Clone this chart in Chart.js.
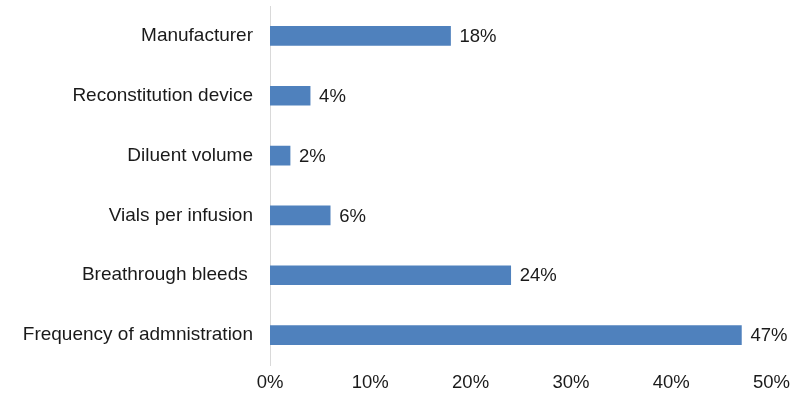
<!DOCTYPE html>
<html>
<head>
<meta charset="utf-8">
<script src="https://cdn.jsdelivr.net/npm/chart.js@4"></script>
<style>
  html, body { margin: 0; padding: 0; background: #fff; }
  #wrap { width: 797px; height: 399px; }
</style>
</head>
<body>
<div id="wrap"><canvas id="c"></canvas></div>
<script>
const categories = [
  "Manufacturer",
  "Reconstitution device",
  "Diluent volume",
  "Vials per infusion",
  "Breathrough bleeds ",
  "Frequency of admnistration"
];
const shares = [18, 4, 2, 6, 24, 47];
const xTicks = [0, 10, 20, 30, 40, 50];

const FONT = "'Liberation Sans', Arial, sans-serif";

// labels at the end of each bar
const valueLabels = {
  id: "valueLabels",
  afterDatasetsDraw(chart) {
    const { ctx } = chart;
    const meta = chart.getDatasetMeta(0);
    ctx.save();
    ctx.font = "18.5px " + FONT;
    ctx.fillStyle = "#1a1a1a";
    ctx.textAlign = "left";
    ctx.textBaseline = "middle";
    meta.data.forEach((bar, i) => {
      ctx.fillText(shares[i] + "%", bar.x + 9, bar.y + 1);
    });
    ctx.restore();
  }
};

const ctx = document.getElementById("c").getContext("2d");
new Chart(ctx, {
  type: "bar",
  data: {
    labels: categories,
    datasets: [{
      data: shares,
      backgroundColor: "#4F81BD",
      barThickness: 19
    }]
  },
  options: {
    indexAxis: "y",
    responsive: true,
    maintainAspectRatio: false,
    animation: false,
    layout: { padding: { top: 6, right: 24, bottom: 0, left: 0 } },
    plugins: {
      legend: { display: false },
      tooltip: { enabled: false }
    },
    scales: {
      x: {
        min: 0,
        max: 50,
        afterBuildTicks: (axis) => { axis.ticks = xTicks.map((v) => ({ value: v })); },
        afterFit: (axis) => { axis.height = 34; },
        grid: { display: false, drawTicks: false },
        border: { display: false },
        ticks: {
          padding: 7,
          color: "#1a1a1a",
          font: { family: FONT, size: 18.5 },
          maxRotation: 0,
          callback: (v) => v + "%"
        }
      },
      y: {
        grid: { display: false, drawTicks: false },
        border: { display: true, color: "#d9d9d9", width: 1 },
        afterFit: (axis) => {
          axis.width = 270;
          axis.paddingTop = 0;
          axis.paddingBottom = 0;
        },
        ticks: {
          padding: 17,
          color: "#1a1a1a",
          font: { family: FONT, size: 19 }
        }
      }
    }
  },
  plugins: [valueLabels]
});
</script>
</body>
</html>
